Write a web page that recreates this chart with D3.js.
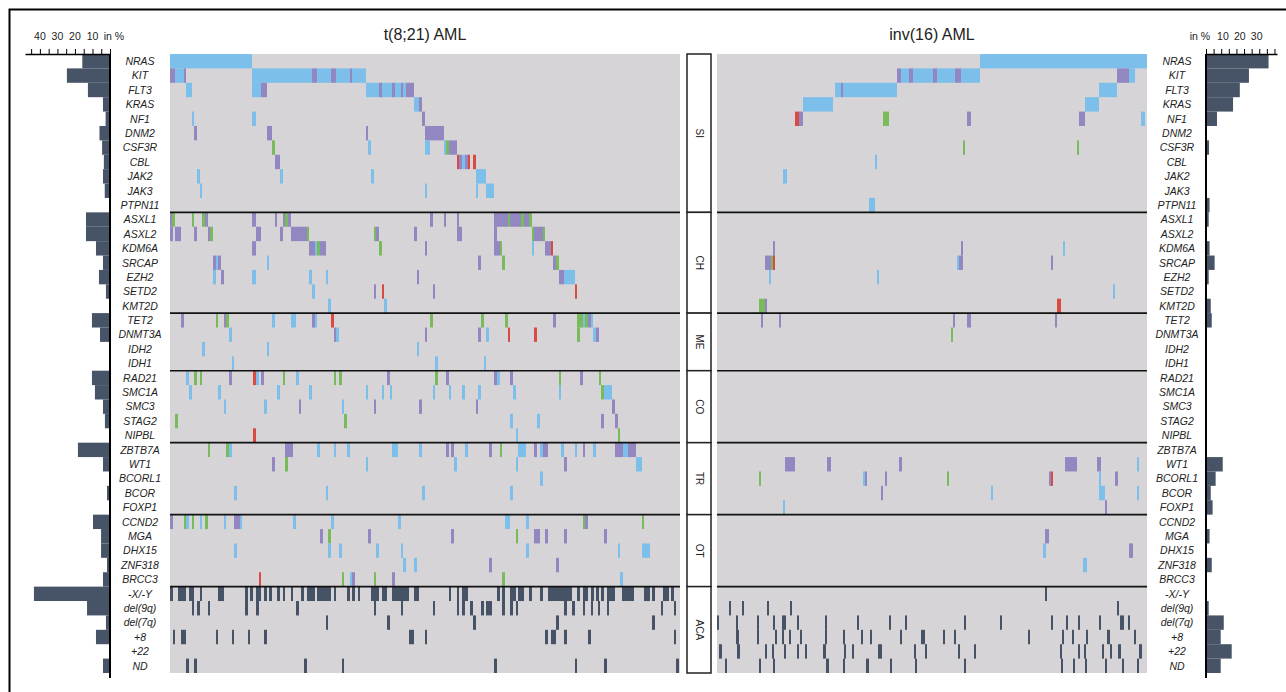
<!DOCTYPE html>
<html><head><meta charset="utf-8">
<script src="https://cdn.jsdelivr.net/npm/d3@7"></script>
<style>
body{margin:0;background:#fff}
svg{display:block}
text{font-family:"Liberation Sans",Arial,Helvetica,sans-serif;fill:#222}
</style></head>
<body><svg id="chart" width="1286" height="692"></svg>
<script>
const genes = ["NRAS","KIT","FLT3","KRAS","NF1","DNM2","CSF3R","CBL","JAK2","JAK3","PTPN11",
 "ASXL1","ASXL2","KDM6A","SRCAP","EZH2","SETD2","KMT2D",
 "TET2","DNMT3A","IDH2","IDH1",
 "RAD21","SMC1A","SMC3","STAG2","NIPBL",
 "ZBTB7A","WT1","BCORL1","BCOR","FOXP1",
 "CCND2","MGA","DHX15","ZNF318","BRCC3",
 "-X/-Y","del(9q)","del(7q)","+8","+22","ND"];
const groupNames = ["SI","CH","ME","CO","TR","OT","ACA"];
const groupSizes = [11,7,4,5,5,5,6];
const panelTitles = ["t(8;21) AML","inv(16) AML"];
const leftTickLabels = [10,20,30,40];
const rightTickLabels = [10,20,30];
const leftFreq = [15.8,24.6,12.6,4,2.5,6,4.5,3.5,4,3,0,
 13.7,13.7,8,4,6.3,2.3,0.5,
 10.3,5.7,0,0,
 10.3,8.6,4,2.9,0,
 18.3,4,0,1.7,0,
 9.7,5.1,5.1,1.7,4,
 43.4,13.1,2.3,8,0,4];
const rightFreq = [37,25.4,20,16,6.5,0,1.8,0,0,0,2.1,
 1.6,0,2.1,5.1,1.6,0,2.8,
 3.4,0,0,0,
 0,0,0,0,0,
 0,9.9,5.7,2.8,3.9,
 0,2.1,0,3.4,0,
 0,1.6,10.5,8.7,15.2,8.7];
const leftSamples = 255, rightSamples = 215;

// b = blue, p = purple, g = green, r = red, k = dark (aberration); start-end in sample index
const leftSI = [
 "b0-41",
 "p0-2.5 b2.5-7 p7-8 b41-71 p71-73.5 b73.5-80.5 p80.5-83 b83-90 p90-91 b91-98",
 "b8-11 b41-45.5 p45.5-48.5 b98-104.5 p104.5-106 b106-111 p111-112.5 b112.5-115.5 p115.5-116.5 b116.5-118 p118-122",
 "b122-124.5 p124.5-126",
 "b11-12 b41-43 p126-127.5",
 "p12-13.5 p48.5-51 p98-99 p127.5-137",
 "g51-52.5 b99-100.5 b127.5-130 b137-138 g138-139.5 p139.5-143.5",
 "p52.5-55 r143.5-144.5 p144.5-146 b146-147.5 p147.5-149 r149-150 r151.5-153",
 "b13.5-15 b55-56.5 b100.5-102 b153-158",
 "b15-16 b127.5-128.5 b153-154 b158-162",
 ""];
const leftCH = [
 "p0-1 g1-2.5 g11-12 g16-17.5 p17.5-19 p41-43 p52.5-53.5 p56.5-57.5 g57.5-59 p59-60.5 p130-131.5 p137-138 p143.5-144.5 p162-169 g169-170 p170-175.5 g175.5-177 p177-179.5 g179.5-181",
 "p0-1.5 p2.5-5.5 p12-13.5 p19-20 g20-21.5 p43-45.5 p55-56.5 p60.5-68.5 g68.5-69.5 g102-103 p103-104.5 p122-123.5 p143.5-146 p162-163.5 g181-182 p182-186.5 g186.5-187.5",
 "p41-43 p69.5-72.5 b72.5-73.5 g73.5-75 p75-78 g104.5-106 p127.5-128.5 p162-165 g165-166 b181-182 p187.5-190.5 r190.5-191.5",
 "p21.5-23 b23-24 p24-25.5 b48.5-49.5 p154-155.5 g166-167.5 p191.5-193 g193-194.5",
 "b21.5-23 p25.5-27 b41-43 b69.5-71 b78-79 p123.5-124.5 p194.5-197 b197-202.5",
 "b71-72.5 p102-103 r106-107 p131.5-132.5 r202.5-203.5",
 "b79-80.5 b107-108.5"];
const leftME = [
 "p5.5-7 g23-24 p27-28 g28-29.5 b51-52.5 b60.5-63 p71-72.5 b72.5-73.5 r80.5-82 g130-131.5 g155.5-157 g167.5-169 p191.5-193 g203.5-206.5 b206.5-207.5 g207.5-209 p209-210.5 b210.5-211.5",
 "b29.5-31 p82-83 b83-84.5 p127.5-128.5 p154-155.5 b158-159.5 r169-170 r182-183.5 g203.5-205 b211.5-213 p213-214.5",
 "b16-17.5 b48.5-49.5 b123.5-124.5",
 "b31-32 b132.5-134 b157-158"];
const leftCO = [
 "b8-9.5 g12-13.5 g15-16 p29.5-31 r41.5-43 b43-44.5 p45.5-47 g56.5-57.5 b63-64.5 g82-83 g84.5-86 p108.5-110 g132.5-134 p138-139.5 p162-163.5 b163.5-165 p170-171.5 g194.5-195.5 p205-206.5 g214.5-215.5",
 "b9.5-11 b24-25.5 b53.5-55 b69.5-71 b98-99 b106-107 b110-111 b131.5-132.5 b139.5-140.5 b146-147.5 b154-155.5 b171.5-173 b194.5-195.5 g215.5-217 b217-221",
 "b27-28 b47-48.5 p64.5-65.5 b86-87 p102-103 p124.5-126 p153-154 p221-222.5",
 "g2.5-4 g87-88.5 b170-171.5 b183.5-185 p215.5-217 p222.5-224",
 "r41.5-43 b173-174 g224-225"];
const leftTR = [
 "g19-20 g28-29.5 b29.5-31 p57.5-61.5 b73.5-75 b82-83 b88.5-90 b111-114 b124.5-126 p138-139.5 p140.5-142 b147.5-149 p159.5-161 g165-166 b174-178 p182-183.5 b185-186.5 p186.5-189 b195.5-197 b202.5-203.5 p206.5-207.5 b211.5-213 p222.5-226.5 b226.5-229 p229-233",
 "p51-52.5 g57.5-59 b98-99 b142-143.5 b173-174 p197-198.5 b233-236",
 "b185-186.5",
 "b32-33.5 b78-79 b126-127.5 b170-171.5",
 ""];
const leftOT = [
 "p0-1.5 g7-8 b8-9.5 g11-12 b15-16 g17.5-19 b27-28 p32-35 b35-36 b61.5-63 b80.5-82 b114-115.5 b167.5-170 b178-179.5 g206.5-207.5 p207.5-209 g236-237",
 "p75-76.5 g79-80.5 p99-100.5 p140.5-142 g173-174 p182-185 p187.5-189 p197-198.5 p217-218.5",
 "b32-33.5 b79-80.5 b84.5-86 b103-104.5 b115.5-116.5 b178-179.5 b224-225 b236-240",
 "b116.5-118 b122-123.5 p159.5-161 p193-194.5",
 "r44.5-45.5 g86-87 b90-91 p91-92.5 g102-103 p111-112.5 g166-167.5 b225-226.5"];
const leftACA = [
 "k0-1.5 k4-8 k9.5-12 k15-16 k24-27 k37.5-39 k40-41.5 k43-45.5 k47-48.5 k49.5-51 k53.5-55 k56.5-57.5 k60.5-61.5 k65.5-67 k68.5-72.5 k73.5-80.5 k82-83 k88.5-90 k91-92.5 k94-95 k100.5-104.5 k106-108.5 k111-119.5 k122-124.5 k139.5-140.5 k143.5-144.5 k146-149 k163.5-165 k166-167.5 k170-173 k174-177 k179.5-181 k185-186.5 k189-201 k203.5-205 k206.5-209 k210.5-212 k213-214.5 k215.5-217 k218.5-222.5 k226-232 k237-240 k241-242.5 k246.5-249.5 k250.5-252",
 "k11-12 k13.5-15 k19-20 k37.5-39 k43-44.5 k63-64.5 k102-103 k115.5-116.5 k131.5-132.5 k143.5-144.5 k146-147.5 k150-151.5 k155.5-157 k158-161 k166-167.5 k170-171.5 k173-174 k197-198.5 k201-202.5 k206.5-207.5 k210.5-211.5 k214-215 k218.5-219.5 k245.5-246.5 k252-253",
 "k78-79 k108.5-110 k151.5-153 k193-194.5 k241-242.5",
 "k1.5-2.5 k5.5-8 k23-24 k31-32 k39-40 k47-48.5 k119.5-122 k127.5-128.5 k187.5-189 k190.5-193 k197-198.5 k209-210.5 k252-253",
 "",
 "k8-9.5 k12-13.5 k67-68.5 k86-87 k162-163.5 k202.5-203.5 k217-218.5 k253-254.5"];

const rightSI = [
 "b131.5-215",
 "p90-92 b92-96 p96-98 b98-108 p108-110 b110-119 p119-122 b122-131.5 p200-206 b206-209",
 "b59-62 p62-63 b63-90 b191-200",
 "b43-58 b184-191",
 "r39-41 p41-43 g83-86 p125-127 p181-184 b212-214",
 "",
 "g123-124 g180-181",
 "b79-80",
 "b33-35",
 "",
 "b76-79"];
const rightCH = [
 "",
 "",
 "p28-29 p122-123 b173-174",
 "p24-27 g27-28 r28-29 b120-121 p121-123 p167-168",
 "b26-27 b80-81",
 "b198-199",
 "g21-24 p24-25 r170-172"];
const rightME = [
 "p22-23 p31-32 p118-119 p125-127 p169-170",
 "g117-118",
 "",
 ""];
const rightCO = ["","","","",""];
const rightTR = [
 "",
 "p34-39 p55-57 p91-92.5 p174-180 p190-192 b210-211",
 "g21-22 b73-74 p74-75 p84-85 g115-116 p166-167 r167-168 b191-192 p199-200.5",
 "p82-83 b137-138 b191-194 b210-211",
 "b33-34 p194-195"];
const rightOT = [
 "",
 "p164-166",
 "b163-164.5 p206-208",
 "b183-185",
 ""];
const rightACA = [
 "k164-165",
 "k6-7 k12.5-13.5 k25-26 k36.5-37.5 k200-201",
 "k0-1 k9.5-10.5 k20-21 k28-29 k32.5-34.5 k40-41 k54-55 k70-71 k86-87 k94-95 k123.5-124.5 k141.5-142.5 k167-168 k174.5-175.5 k180.5-181.5 k191-192 k201.5-203.5 k205.5-206.5",
 "k9.5-11 k20-21 k29-30 k32.5-33.5 k36-37 k41.5-42.5 k54-55 k63-64 k72-73 k76.5-77.5 k91.5-92.5 k102-104 k113-114 k118.5-119.5 k155.5-156.5 k172.5-173.5 k177.5-178.5 k184.5-185.5 k195-196.5 k208.5-209.5",
 "k1-2.5 k10-11.5 k24-25 k27.5-28.5 k33.5-34.5 k40-41 k44-45 k53-54.5 k63.5-64.5 k67.5-68.5 k80.5-82.5 k98.5-99.5 k104-105 k120.5-121.5 k128.5-129.5 k171.5-172.5 k180.5-181.5 k183.5-184.5 k192.5-193.5 k196.5-197.5 k200.5-202 k211-212.5",
 "k4-5 k21-22 k28-29 k54.5-56 k63-64 k74.5-76 k86.5-87.5 k99-100 k123.5-124.5 k172-173 k178-179 k184-185 k194-195 k202.5-203.5 k210-211"];

const colors = {b:"#7cbfea", p:"#9387c2", g:"#79ba5b", r:"#d84a42", k:"#465266"};
const bg = "#d6d4d7", barColor = "#475366";

const svg = d3.select("#chart");
svg.append("rect").attr("x",9.5).attr("y",9.5).attr("width",1300).attr("height",720)
  .attr("fill","none").attr("stroke","#000").attr("stroke-width",2);

const y = d3.scaleBand().domain(genes).range([54,673]).paddingInner(0).paddingOuter(0);
const xL = d3.scaleLinear().domain([0,leftSamples]).range([170,680]);
const xR = d3.scaleLinear().domain([0,rightSamples]).range([717,1147]);

function parse(spec){
  const s = spec.trim();
  if(!s) return [];
  return s.split(/\s+/).map(t=>{const ab=t.slice(1).split("-").map(Number);return {type:t[0],a:ab[0],b:ab[1]};});
}
function rows(groups){
  const specs = [].concat(...groups);
  const out = [];
  specs.forEach((s,i)=>parse(s).forEach(m=>out.push(Object.assign({gene:genes[i]},m))));
  return out;
}
const leftMarks = rows([leftSI,leftCH,leftME,leftCO,leftTR,leftOT,leftACA]);
const rightMarks = rows([rightSI,rightCH,rightME,rightCO,rightTR,rightOT,rightACA]);

const bounds = [0];
groupSizes.forEach(n=>bounds.push(bounds[bounds.length-1]+n));
const yAt = i => i<genes.length ? y(genes[i]) : y.range()[1];

function drawPanel(x, marks, title){
  const g = svg.append("g");
  g.append("rect").attr("x",x.range()[0]).attr("y",y.range()[0])
   .attr("width",x.range()[1]-x.range()[0]).attr("height",y.range()[1]-y.range()[0]).attr("fill",bg);
  g.selectAll("rect.m").data(marks).join("rect").attr("class","m")
   .attr("x",d=>x(d.a)).attr("width",d=>Math.max(0.8,x(d.b)-x(d.a)))
   .attr("y",d=>y(d.gene)).attr("height",y.bandwidth()).attr("fill",d=>colors[d.type]);
  g.selectAll("line.sep").data(bounds.slice(1,-1)).join("line").attr("class","sep")
   .attr("x1",x.range()[0]).attr("x2",x.range()[1])
   .attr("y1",d=>yAt(d)).attr("y2",d=>yAt(d)).attr("stroke","#111").attr("stroke-width",1.6);
  svg.append("text").attr("x",(x.range()[0]+x.range()[1])/2).attr("y",40)
   .attr("text-anchor","middle").attr("font-size",16).text(title);
}
drawPanel(xL, leftMarks, panelTitles[0]);
drawPanel(xR, rightMarks, panelTitles[1]);

const mid = svg.append("g");
groupNames.forEach((nm,i)=>{
  const y0 = yAt(bounds[i]), y1 = yAt(bounds[i+1]);
  mid.append("rect").attr("x",687).attr("y",y0).attr("width",24).attr("height",y1-y0)
    .attr("fill","#fff").attr("stroke","#222").attr("stroke-width",1.5);
  mid.append("text").attr("transform",`translate(699,${(y0+y1)/2}) rotate(90)`)
    .attr("text-anchor","middle").attr("dy","0.35em").attr("font-size",10).text(nm);
});

[140,1177].forEach(cx=>{
  svg.append("g").selectAll("text").data(genes).join("text")
   .attr("x",cx).attr("y",d=>y(d)+y.bandwidth()/2).attr("dy","0.36em")
   .attr("text-anchor","middle").attr("font-size",10.5).attr("font-style","italic").text(d=>d);
});

const bL = d3.scaleLinear().domain([0,48.5]).range([110,25]);
const bR = d3.scaleLinear().domain([0,42]).range([1206,1277]);
function bars(scale, freq, tickVals, labels){
  const g = svg.append("g");
  g.selectAll("rect").data(genes).join("rect")
   .attr("x",(d,i)=>Math.min(scale(0),scale(freq[i])))
   .attr("width",(d,i)=>Math.abs(scale(freq[i])-scale(0)))
   .attr("y",d=>y(d)).attr("height",y.bandwidth()).attr("fill",barColor);
  const ax = g.append("g").attr("transform","translate(0,54)")
   .call(d3.axisTop(scale).tickValues(tickVals).tickSize(5).tickFormat("").tickSizeOuter(0));
  ax.select(".domain").attr("stroke","#000").attr("stroke-width",1.5);
  ax.selectAll(".tick line").attr("stroke","#000").attr("stroke-width",1);
  g.append("line").attr("x1",scale(0)).attr("x2",scale(0)).attr("y1",54).attr("y2",678)
   .attr("stroke","#000").attr("stroke-width",2);
  g.selectAll("text.tl").data(labels).join("text").attr("class","tl")
   .attr("x",d=>scale(d)).attr("y",40).attr("text-anchor","middle").attr("font-size",10.5).text(d=>d);
}
bars(bL, leftFreq, d3.range(0,48,5), leftTickLabels);
bars(bR, rightFreq, d3.range(0,41,4.5), rightTickLabels);
svg.append("text").attr("x",114).attr("y",40).attr("text-anchor","middle").attr("font-size",10.5).text("in %");
svg.append("text").attr("x",1200).attr("y",40).attr("text-anchor","middle").attr("font-size",10.5).text("in %");
</script></body></html>
